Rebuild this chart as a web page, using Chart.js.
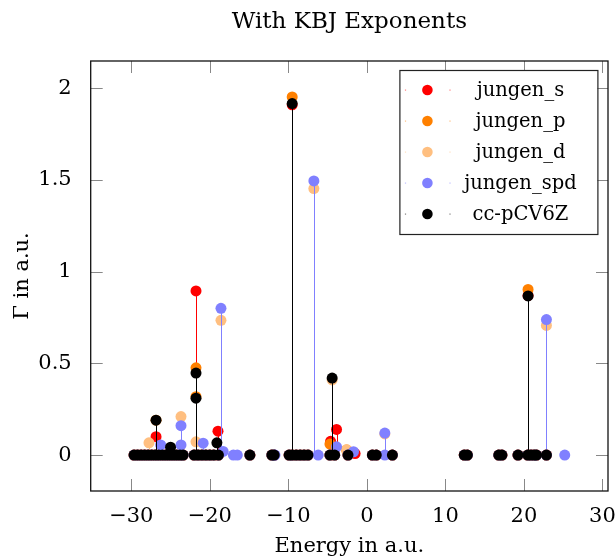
<!DOCTYPE html>
<html><head><meta charset="utf-8">
<script src="https://cdn.jsdelivr.net/npm/chart.js@4/dist/chart.umd.min.js"></script>
<style>html,body{margin:0;padding:0;background:#fff}</style>
</head><body>
<canvas id="c" width="616" height="559"></canvas>
<script>
// ---- data ----
const seriesNames  = ['jungen_s', 'jungen_p', 'jungen_d', 'jungen_spd', 'cc-pCV6Z'];
const seriesColors = ['#ff0000', '#ff8000', '#ffbf80', '#8080ff', '#000000'];
const xTickValues = [-30, -20, -10, 0, 10, 20, 30];
const yTickValues = [0, 0.5, 1, 1.5, 2];

// states with (almost) zero width, common to all basis sets
const zeroEnergies = [-29.65, -29.2, -28.75, -28.3, -27.85, -27.4, -26.95, -26.5, -26.05, -25.6,
  -25.15, -24.7, -24.25, -23.8, -23.4, -22.0, -21.5, -21.0, -20.5, -20.0, -19.5, -18.9,
  -14.9, -12.1, -11.8, -9.9, -9.5, -9.0, -8.5, -8.0, -7.5, -4.7, -4.1, -2.4, 0.7, 1.2, 3.25,
  12.4, 12.8, 16.8, 17.2, 19.25, 20.5, 20.9, 21.3, 21.6, 22.87];

// jungen_s
const energies_s = [-26.85, -21.76, -18.96, -9.51, -4.62, -3.86, -1.5, 20.53];
const gamma_s    = [0.10, 0.895, 0.13, 1.91, 0.075, 0.14, 0.008, 0.87];
// jungen_p
const energies_p = [-26.85, -21.76, -21.76, -9.51, -4.7, -2.58, 20.53];
const gamma_p    = [0.19, 0.476, 0.318, 1.953, 0.06, 0.027, 0.903];
// jungen_d
const energies_d = [-27.75, -23.67, -21.76, -18.58, -6.75, -4.42, -2.58, 2.29, 22.87];
const gamma_d    = [0.067, 0.21, 0.072, 0.735, 1.453, 0.41, 0.03, 0.115, 0.707];
// jungen_spd
const energies_spd = [-26.26, -23.67, -23.67, -20.85, -18.58, -18.3, -17.0, -16.5, -11.7, -6.75, -6.2,
  -3.86, -1.7, 2.29, 2.29, 22.87, 25.2];
const gamma_spd    = [0.055, 0.16, 0.055, 0.065, 0.80, 0.02, 0, 0, 0, 1.495, 0,
  0.045, 0.018, 0.12, 0, 0.739, 0];
// cc-pCV6Z
const energies_cc = [-26.85, -25.0, -21.76, -21.76, -19.1, -9.51, -4.42, 20.53];
const gamma_cc    = [0.19, 0.043, 0.447, 0.31, 0.067, 1.917, 0.42, 0.868];

const xMin = -35.17, xMax = 30.71, yMin = -0.196, yMax = 2.149;

// ---- build datasets ----
function pts(es, gs, withZeros) {
  const out = withZeros ? zeroEnergies.map(e => ({x: e, y: 0})) : [];
  es.forEach((e, i) => out.push({x: e, y: gs[i]}));
  return out;
}
const seriesData = [
  pts(energies_s, gamma_s, true),
  pts(energies_p, gamma_p, true),
  pts(energies_d, gamma_d, true),
  pts(energies_spd, gamma_spd, true),
  pts(energies_cc, gamma_cc, true)
];

const FONT = 'DejaVu Serif';
Chart.defaults.font.family = FONT;
Chart.defaults.color = '#000';

const datasets = seriesNames.map((n, i) => ({
  label: n,
  data: seriesData[i],
  backgroundColor: seriesColors[i],
  borderColor: seriesColors[i],
  borderWidth: 0,
  pointRadius: 5.5,
  pointHoverRadius: 5.5,
  showLine: false,
  order: seriesNames.length - i
}));

const fmt = v => (v < 0 ? '\u2212' + Math.abs(v) : String(v));

// stems (ycomb) drawn just before each dataset's markers
const stemPlugin = {
  id: 'stems',
  beforeDatasetDraw(chart, args) {
    const ds = chart.data.datasets[args.index];
    const xs = chart.scales.x, ys = chart.scales.y;
    const ctx = chart.ctx, a = chart.chartArea;
    const y0 = ys.getPixelForValue(0);
    ctx.save();
    ctx.beginPath(); ctx.rect(a.left, a.top, a.width, a.height); ctx.clip();
    ctx.strokeStyle = ds.borderColor; ctx.lineWidth = 1;
    ds.data.forEach(p => {
      if (p.y === 0) return;
      const px = Math.round(xs.getPixelForValue(p.x)) + 0.5;
      ctx.beginPath(); ctx.moveTo(px, y0); ctx.lineTo(px, ys.getPixelForValue(p.y)); ctx.stroke();
    });
    ctx.restore();
  }
};

// pgfplots-like frame with inward ticks on all four sides
const framePlugin = {
  id: 'frame',
  afterDatasetsDraw(chart) {
    const ctx = chart.ctx, a = chart.chartArea, xs = chart.scales.x, ys = chart.scales.y;
    ctx.save();
    ctx.strokeStyle = '#888'; ctx.lineWidth = 1;
    const L = 12;
    xs.ticks.forEach(t => {
      const px = Math.round(xs.getPixelForValue(t.value)) + 0.5;
      ctx.beginPath(); ctx.moveTo(px, a.bottom); ctx.lineTo(px, a.bottom - L);
      ctx.moveTo(px, a.top); ctx.lineTo(px, a.top + L); ctx.stroke();
    });
    ys.ticks.forEach(t => {
      const py = Math.round(ys.getPixelForValue(t.value)) + 0.5;
      ctx.beginPath(); ctx.moveTo(a.left, py); ctx.lineTo(a.left + L, py);
      ctx.moveTo(a.right, py); ctx.lineTo(a.right - L, py); ctx.stroke();
    });
    ctx.strokeStyle = '#111'; ctx.lineWidth = 1.3;
    ctx.strokeRect(a.left, a.top, a.width, a.height);
    ctx.restore();
  }
};

// boxed legend inside the plot, upper right
const legendPlugin = {
  id: 'boxLegend',
  afterDraw(chart) {
    const ctx = chart.ctx, a = chart.chartArea;
    const w = 198, h = 164;
    const left = a.right - 10.6 - w, top = a.top + 9;
    ctx.save();
    ctx.fillStyle = '#fff';
    ctx.fillRect(left, top, w, h);
    ctx.strokeStyle = '#222'; ctx.lineWidth = 1.2;
    ctx.strokeRect(left + 0.5, top + 0.5, w, h);
    ctx.font = '19.5px "' + FONT + '"';
    ctx.textAlign = 'center'; ctx.textBaseline = 'middle';
    chart.data.datasets.forEach((ds, i) => {
      const cy = top + 20 + i * 31;
      ctx.globalAlpha = 0.5; ctx.fillStyle = ds.backgroundColor;
      ctx.fillRect(left + 5.5, cy - 0.5, 1.2, 1.2);
      ctx.fillRect(left + 50, cy - 0.5, 1.2, 1.2);
      ctx.globalAlpha = 1;
      ctx.beginPath(); ctx.arc(left + 28, cy, 5.3, 0, Math.PI * 2); ctx.fill();
      ctx.fillStyle = '#000';
      ctx.fillText(ds.label, left + 121, cy + 1);
    });
    ctx.restore();
  }
};

new Chart(document.getElementById('c'), {
  type: 'scatter',
  data: { datasets },
  plugins: [stemPlugin, framePlugin, legendPlugin],
  options: {
    responsive: false,
    devicePixelRatio: 1,
    animation: false,
    layout: { padding: { left: 0, right: 8, top: 0, bottom: 0 } },
    plugins: {
      legend: { display: false },
      tooltip: { enabled: false },
      title: {
        display: true, text: 'With KBJ Exponents', color: '#000', fullSize: false,
        font: { family: FONT, size: 23, weight: 'normal' },
        padding: { top: 8, bottom: 25.4 }
      }
    },
    scales: {
      x: {
        type: 'linear', min: xMin, max: xMax,
        afterFit: s => { s.height = 68; s.paddingLeft = 0; s.paddingRight = 0; },
        afterBuildTicks: s => { s.ticks = xTickValues.map(v => ({ value: v })); },
        ticks: { callback: fmt, font: { size: 21 }, padding: 5, maxRotation: 0, color: '#000' },
        grid: { display: false },
        border: { display: false },
        title: { display: true, text: 'Energy in a.u.', font: { size: 21 }, color: '#000', padding: { top: 0, bottom: 0 } }
      },
      y: {
        type: 'linear', min: yMin, max: yMax,
        afterFit: s => { s.width = 90.7; s.paddingTop = 0; s.paddingBottom = 0; },
        afterBuildTicks: s => { s.ticks = yTickValues.map(v => ({ value: v })); },
        ticks: { callback: fmt, font: { size: 21 }, padding: 11, color: '#000' },
        grid: { display: false },
        border: { display: false },
        title: { display: true, text: 'Γ in a.u.', font: { size: 21 }, color: '#000', padding: { top: 10, bottom: 0 } }
      }
    }
  }
});
</script>
</body></html>
